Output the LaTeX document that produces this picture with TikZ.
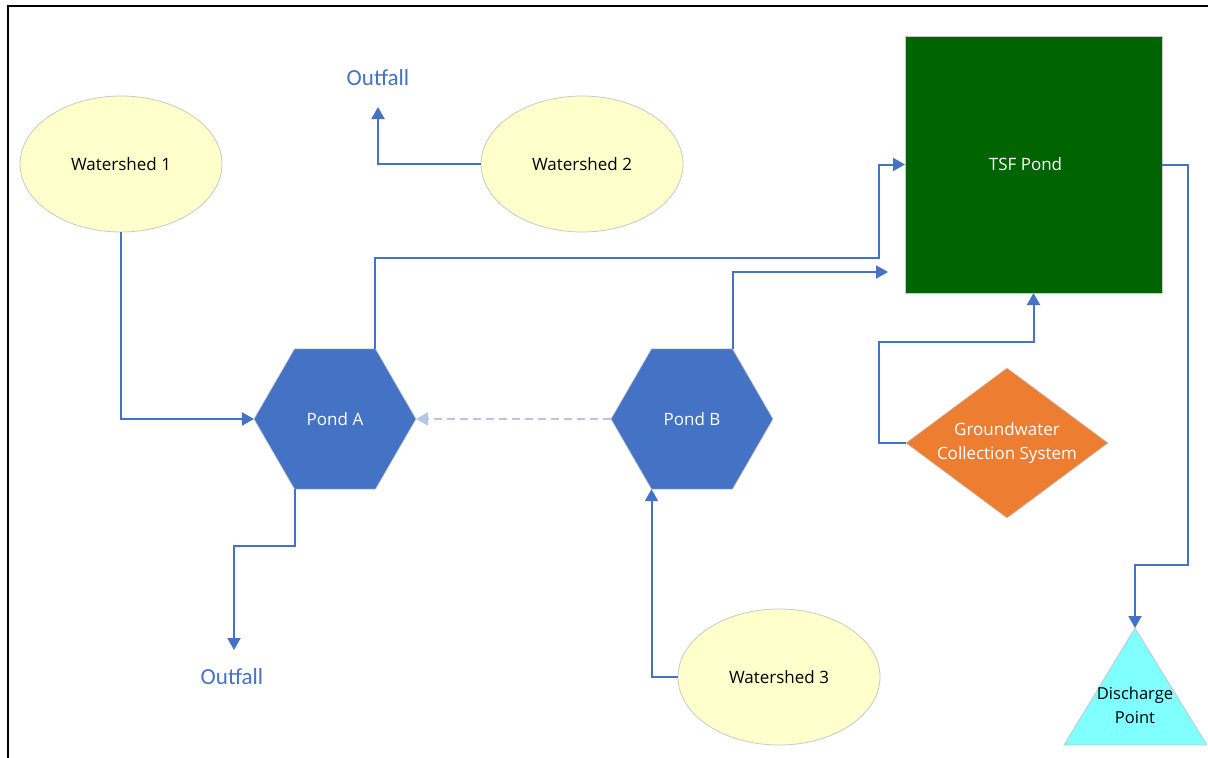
\documentclass[tikz,border=0pt]{standalone}
\usepackage{fontspec}
\setmainfont{Open Sans}
\newfontfamily\calibrifont{Carlito}
\usetikzlibrary{shapes.geometric,arrows.meta}
\definecolor{lineblue}{HTML}{4472C4}
\definecolor{dashblue}{HTML}{B4C7E7}
\definecolor{hexblue}{HTML}{4472C4}
\definecolor{wsfill}{HTML}{FFFFCC}
\definecolor{tsfgreen}{HTML}{006400}
\definecolor{gworange}{HTML}{ED7D31}
\definecolor{dpcyan}{HTML}{80FFFF}
\definecolor{edgegray}{HTML}{C8C8C8}
\begin{document}
\begin{tikzpicture}[x=1pt,y=-1pt,
  ws/.style={ellipse,minimum width=202pt,minimum height=136pt,inner sep=0pt,outer sep=0pt,
    fill=wsfill,draw=edgegray,line width=0.8pt,font=\fontsize{17}{20}\selectfont,text=black},
  pond/.style={regular polygon,regular polygon sides=6,minimum size=162pt,inner sep=0pt,outer sep=0pt,
    fill=hexblue,draw=edgegray,line width=0.6pt,font=\fontsize{17}{20}\selectfont,text=white},
  tsfbox/.style={rectangle,minimum width=257pt,minimum height=257pt,inner sep=0pt,outer sep=0pt,
    fill=tsfgreen,draw=edgegray,line width=0.8pt,font=\fontsize{17}{20}\selectfont,text=white},
  gwbox/.style={diamond,minimum width=202pt,minimum height=150pt,inner sep=0pt,outer sep=0pt,
    fill=gworange,draw=edgegray,line width=0.6pt},
  gwlabel/.style={font=\fontsize{17}{24}\selectfont,text=white,align=center,inner sep=0pt},
  outfall/.style={font=\calibrifont\fontsize{23}{26}\selectfont,text=lineblue,inner sep=0pt},
  dplabel/.style={font=\fontsize{16.5}{24}\selectfont,text=black,align=center,inner sep=0pt},
  flow/.style={draw=lineblue,line width=2pt,-{Triangle[length=12pt,width=13pt]}},
  dflow/.style={draw=dashblue,line width=2pt,dash pattern=on 8pt off 5pt,-{Triangle[length=12pt,width=13pt]}}
]
\useasboundingbox (0,0) rectangle (1208,758);
\fill[white] (0,0) rectangle (1208,758);
\draw[line width=2.2pt,black] (8,760) -- (8,6) -- (1210,6);

% nodes
\node[ws] (w1) at (121,164) {Watershed 1};
\node[ws] (w2) at (582,164) {Watershed 2};
\node[ws] (w3) at (779,677) {Watershed 3};
\node[tsfbox] (tsf) at (1033.5,164.5) {\hspace*{-16pt}TSF Pond};
\node[pond] (pa) at (335,419) {Pond A};
\node[pond] (pb) at (692,419) {Pond B};
\node[gwbox] (gw) at (1007,443) {};
\node[gwlabel] (gwt) at (gw.center) {Groundwater\\Collection System};
\coordinate (dpapex) at (1135,628);
\filldraw[fill=dpcyan,draw=edgegray,line width=0.8pt] (dpapex) -- (1207,745) -- (1064,745) -- cycle;
\node[dplabel] (dp) at (1135,705) {Discharge\\Point};
\node[outfall] (o2) at (378,78) {Outfall};
\node[outfall] (o1) at (232,677) {Outfall};

% junction coordinates
\coordinate (o2tip) at (378,107);
\coordinate (o1tip) at (234,650);
\coordinate (j1) at (879,258);
\coordinate (pbtip) at (888,272);
\coordinate (j2) at (879,342);
\coordinate (j3) at (1188,565);

% connectors
\draw[flow] (w1.south) |- (pa.west);
\draw[flow] (w2.west) -| (o2tip);
\draw[flow] (pa.240) -- ++(0,57) -| (o1tip);
\draw[flow] (pa.60) |- (j1) |- (tsf.west);
\draw[flow] (pb.60) |- (pbtip);
\draw[dflow] (pb.west) -- (pa.east);
\draw[flow] (w3.west) -| (pb.240);
\draw[flow] (gw.west) -| (j2) -| (tsf.south);
\draw[flow] (tsf.east) -| (j3) -| (dpapex);
\end{tikzpicture}
\end{document}
